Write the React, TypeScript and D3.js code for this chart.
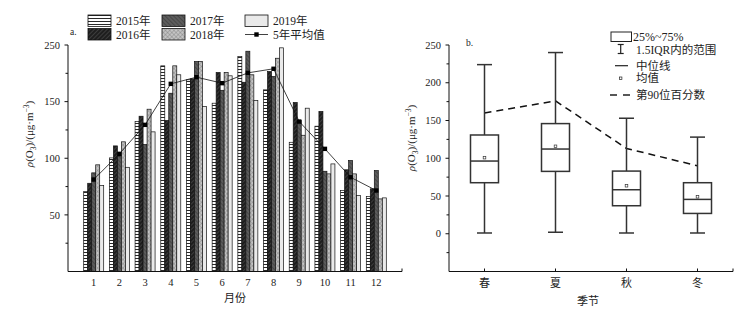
import React from "react";
import * as d3 from "d3";

const months = ["1", "2", "3", "4", "5", "6", "7", "8", "9", "10", "11", "12"];
const years = ["2015年", "2016年", "2017年", "2018年", "2019年"];
const y2015 = [70.6, 100.3, 132.4, 181.6, 169.3, 148.6, 189.8, 160.4, 114.1, 128.3, 71.5, 66.2];
const y2016 = [77.9, 110.9, 137.1, 133.3, 170.1, 175.7, 167.1, 176.6, 149.2, 141.3, 89.8, 73];
const y2017 = [87.1, 102, 112.1, 157.4, 185.4, 160, 194.5, 172.2, 133.3, 88.5, 98, 89.1];
const y2018 = [94.2, 114.5, 143.3, 181.6, 185.4, 175.7, 173.7, 188.3, 120.3, 86.2, 86.2, 64.1];
const y2019 = [75.9, 92, 123.3, 173.7, 145.7, 172.8, 151, 197.5, 144.2, 95, 67, 65];
const avg5 = [81.2, 103.9, 129.5, 165.7, 171.6, 166.3, 175.4, 179, 132.4, 108.3, 83.2, 71.5];
const leftTickValues = [50, 100, 150, 200];
const leftTickLabels = ["50", "100", "150", "250"];

const seasons = ["春", "夏", "秋", "冬"];
const q1 = [67.6, 82.6, 37.1, 26.9];
const median = [96.3, 112.2, 58.3, 45.5];
const q3 = [130.8, 145.9, 83, 67.6];
const whiskerLow = [1, 2, 1, 1];
const whiskerHigh = [224, 240, 153, 128];
const means = [100.8, 115.8, 63.6, 49];
const p90 = [160, 176, 113, 90];
const rightTickValues = [0, 50, 100, 150, 200, 250];

const series = [y2015, y2016, y2017, y2018, y2019];
const fills = ["url(#p2015)", "url(#p2016)", "url(#p2017)", "url(#p2018)", "#eaeaea"];

const FONT = "'Liberation Serif', 'Noto Sans CJK SC', serif";

function YTitle({ x, y }: { x: number; y: number }) {
  return (
    <text transform={`translate(${x},${y}) rotate(-90)`} textAnchor="middle" fontSize={11} fontFamily={FONT} fill="#222">
      <tspan fontStyle="italic">ρ</tspan>
      <tspan>(O</tspan>
      <tspan fontSize={7.5} dy={2.5}>3</tspan>
      <tspan dy={-2.5}>)/(μg·m</tspan>
      <tspan fontSize={7.5} dy={-4}>−3</tspan>
      <tspan dy={4}>)</tspan>
    </text>
  );
}

export default function App() {
  const xL = d3.scaleLinear().domain([0, 13]).range([68, 402]);
  const yL = d3.scaleLinear().domain([0, 200]).range([271.5, 45]);
  const xR = d3.scaleBand().domain(seasons).range([449, 733]);
  const yR = d3.scaleLinear().domain([-50, 250]).range([271.5, 45]);
  const bw = 4;
  const avgLine = d3.line<number>().x((_, i) => xL(i + 1)).y((d) => yL(d))(avg5) || "";
  const p90Line = d3.line<number>().x((_, i) => (xR(seasons[i]) as number) + xR.bandwidth() / 2).y((d) => yR(d))(p90) || "";
  const boxW = 28;
  const capW = 15;
  const stroke = "#333";

  return (
    <div style={{ position: "absolute", left: 0, top: 0 }}>
      <svg width={752} height={313} style={{ display: "block", background: "#fff" }} fontFamily={FONT}>
        <defs>
          <pattern id="p2015" patternUnits="userSpaceOnUse" width={4} height={3}>
            <rect width={4} height={3} fill="#fff" />
            <line x1={0} x2={4} y1={0.5} y2={0.5} stroke="#111" strokeWidth={0.9} />
          </pattern>
          <pattern id="p2016" patternUnits="userSpaceOnUse" width={3} height={3} patternTransform="rotate(45)">
            <rect width={3} height={3} fill="#1e1e1e" />
            <line x1={0} x2={0} y1={0} y2={3} stroke="#6a6a6a" strokeWidth={0.8} />
          </pattern>
          <pattern id="p2017" patternUnits="userSpaceOnUse" width={3} height={3} patternTransform="rotate(-45)">
            <rect width={3} height={3} fill="#5c5c5c" />
            <line x1={0} x2={0} y1={0} y2={3} stroke="#2c2c2c" strokeWidth={0.9} />
          </pattern>
          <pattern id="p2018" patternUnits="userSpaceOnUse" width={3} height={3} patternTransform="rotate(45)">
            <rect width={3} height={3} fill="#c4c4c4" />
            <line x1={0} x2={0} y1={0} y2={3} stroke="#6e6e6e" strokeWidth={0.7} />
            <line x1={0} x2={3} y1={0} y2={0} stroke="#6e6e6e" strokeWidth={0.7} />
          </pattern>
        </defs>

        {/* ===== Left chart ===== */}
        {series.map((s, si) =>
          s.map((v, mi) => (
            <rect
              key={`b${si}-${mi}`}
              x={xL(mi + 1) - 10 + si * bw}
              y={yL(v)}
              width={bw}
              height={yL(0) - yL(v)}
              fill={fills[si]}
              stroke="#111"
              strokeWidth={0.7}
            />
          ))
        )}
        <path d={avgLine} fill="none" stroke="#111" strokeWidth={0.8} />
        {avg5.map((v, i) => (
          <rect key={`m${i}`} x={xL(i + 1) - 2.2} y={yL(v) - 2.2} width={4.4} height={4.4} fill="#000" />
        ))}
        {/* axes */}
        <line x1={xL(0)} x2={xL(0)} y1={yL(0)} y2={yL(200)} stroke="#111" strokeWidth={1} />
        <line x1={xL(0)} x2={xL(13)} y1={yL(0)} y2={yL(0)} stroke="#111" strokeWidth={1} />
        <line x1={xL(13)} x2={xL(13)} y1={yL(0)} y2={yL(0) - 3} stroke="#111" strokeWidth={1} />
        {leftTickValues.map((v, i) => (
          <g key={`lt${i}`}>
            <line x1={xL(0) - 3.5} x2={xL(0)} y1={yL(v)} y2={yL(v)} stroke="#111" />
            <text x={xL(0) - 8} y={yL(v)} dy="0.35em" textAnchor="end" fontSize={10.5} fill="#222">
              {leftTickLabels[i]}
            </text>
          </g>
        ))}
        {[25, 75, 125, 175].map((v) => (
          <line key={`lm${v}`} x1={xL(0) - 2.5} x2={xL(0)} y1={yL(v)} y2={yL(v)} stroke="#111" />
        ))}
        {months.map((m, i) => (
          <text key={`ml${i}`} x={xL(i + 1)} y={286} textAnchor="middle" fontSize={10.5} fill="#222">
            {m}
          </text>
        ))}
        <text x={235} y={302} textAnchor="middle" fontSize={11} fill="#222">月份</text>
        <YTitle x={33} y={134} />
        <text x={70} y={35} fontSize={9.5} fill="#222">a.</text>

        {/* left legend */}
        {years.map((yr, i) => {
          const col = Math.floor(i / 2);
          const row = i % 2;
          const lx = [88, 162, 245][col];
          const ly = [15, 28.5][row];
          return (
            <g key={`lg${i}`}>
              <rect x={lx} y={ly} width={23} height={11.5} fill={fills[i]} stroke="#111" strokeWidth={0.8} />
              <text x={lx + 28} y={ly + 10} fontSize={11.5} fill="#222">{yr}</text>
            </g>
          );
        })}
        <line x1={245} x2={268} y1={34.5} y2={34.5} stroke="#111" strokeWidth={0.8} />
        <rect x={254.3} y={32.3} width={4.4} height={4.4} fill="#000" />
        <text x={273} y={39} fontSize={11.5} fill="#222">5年平均值</text>

        {/* ===== Right chart ===== */}
        <path d={p90Line} fill="none" stroke="#111" strokeWidth={1.5} strokeDasharray="7,5" />
        {seasons.map((s, i) => {
          const cx = (xR(s) as number) + xR.bandwidth() / 2;
          return (
            <g key={`bx${i}`} stroke={stroke} strokeWidth={1.5} fill="none">
              <line x1={cx} x2={cx} y1={yR(q3[i])} y2={yR(whiskerHigh[i])} />
              <line x1={cx} x2={cx} y1={yR(q1[i])} y2={yR(whiskerLow[i])} />
              <line x1={cx - capW / 2} x2={cx + capW / 2} y1={yR(whiskerHigh[i])} y2={yR(whiskerHigh[i])} />
              <line x1={cx - capW / 2} x2={cx + capW / 2} y1={yR(whiskerLow[i])} y2={yR(whiskerLow[i])} />
              <rect x={cx - boxW / 2} y={yR(q3[i])} width={boxW} height={yR(q1[i]) - yR(q3[i])} fill="#fff" />
              <line x1={cx - boxW / 2} x2={cx + boxW / 2} y1={yR(median[i])} y2={yR(median[i])} />
              <rect x={cx - 1.3} y={yR(means[i]) - 1.3} width={2.6} height={2.6} strokeWidth={0.7} />
            </g>
          );
        })}
        {/* right axes */}
        <line x1={449} x2={449} y1={yR(-50)} y2={yR(250)} stroke="#111" strokeWidth={1} />
        <line x1={449} x2={733} y1={yR(-50)} y2={yR(-50)} stroke="#111" strokeWidth={1} />
        <line x1={733} x2={733} y1={yR(-50)} y2={yR(-50) - 3} stroke="#111" strokeWidth={1} />
        {rightTickValues.map((v) => (
          <g key={`rt${v}`}>
            <line x1={449 - 3.5} x2={449} y1={yR(v)} y2={yR(v)} stroke="#111" />
            <text x={449 - 8} y={yR(v)} dy="0.35em" textAnchor="end" fontSize={10.5} fill="#222">
              {v}
            </text>
          </g>
        ))}
        {[-25, 25, 75, 125, 175, 225].map((v) => (
          <line key={`rm${v}`} x1={449 - 2.5} x2={449} y1={yR(v)} y2={yR(v)} stroke="#111" />
        ))}
        {seasons.map((s) => {
          const cx = (xR(s) as number) + xR.bandwidth() / 2;
          return (
            <g key={`sl${s}`}>
              <line x1={cx} x2={cx} y1={yR(-50)} y2={yR(-50) - 3} stroke="#111" />
              <text x={cx} y={287} textAnchor="middle" fontSize={11} fill="#222">{s}</text>
            </g>
          );
        })}
        <text x={588} y={305} textAnchor="middle" fontSize={11} fill="#222">季节</text>
        <YTitle x={415} y={138} />
        <text x={466} y={46} fontSize={9.5} fill="#222">b.</text>

        {/* right legend */}
        <rect x={611} y={32} width={20.5} height={9.5} fill="#fff" stroke="#222" strokeWidth={1} />
        <text x={633} y={40.5} fontSize={12} fill="#222">25%~75%</text>
        <g stroke="#222" strokeWidth={1.2}>
          <line x1={620.7} x2={620.7} y1={44.5} y2={53.5} />
          <line x1={617.7} x2={623.7} y1={44.5} y2={44.5} />
          <line x1={617.7} x2={623.7} y1={53.5} y2={53.5} />
        </g>
        <text x={636} y={54} fontSize={11.5} fill="#222">1.5IQR内的范围</text>
        <line x1={615} x2={628} y1={65.7} y2={65.7} stroke="#222" strokeWidth={1.2} />
        <text x={636} y={69.5} fontSize={11.5} fill="#222">中位线</text>
        <rect x={619.5} y={77} width={2.4} height={2.4} fill="none" stroke="#222" strokeWidth={0.7} />
        <text x={636} y={82} fontSize={11.5} fill="#222">均值</text>
        <line x1={610} x2={631} y1={95} y2={95} stroke="#222" strokeWidth={1.5} strokeDasharray="7,6" />
        <text x={636} y={99} fontSize={11.5} fill="#222">第90位百分数</text>
      </svg>
    </div>
  );
}
